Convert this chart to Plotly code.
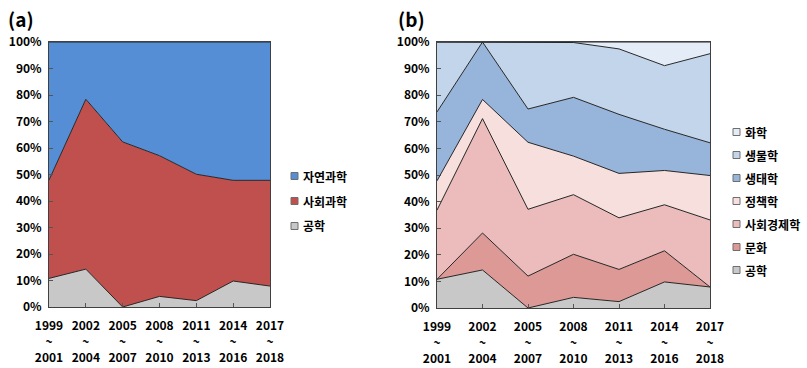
import plotly.graph_objects as go

# Period labels (three-line tick text)
periods = ["1999<br>~<br>2001", "2002<br>~<br>2004", "2005<br>~<br>2007",
           "2008<br>~<br>2010", "2011<br>~<br>2013", "2014<br>~<br>2016",
           "2017<br>~<br>2018"]
xpos = list(range(len(periods)))
pct_vals = list(range(0, 101, 10))
pct_text = [f"{v}%" for v in pct_vals]

# Panel (a): shares by broad field (%)
a_eng = [10.8, 14.3, 0.0, 4.0, 2.4, 9.8, 7.9]
a_social = [37.1, 64.1, 62.3, 53.1, 47.7, 38.0, 39.9]
a_natural = [52.1, 21.6, 37.7, 42.9, 49.9, 52.2, 52.2]

# Panel (b): shares by detailed field (%)
b_eng = [10.8, 14.3, 0.0, 4.0, 2.4, 9.8, 7.9]
b_culture = [0.0, 13.9, 12.0, 16.2, 12.1, 11.7, 0.0]
b_socecon = [26.0, 43.0, 25.1, 22.4, 19.4, 17.3, 25.2]
b_policy = [11.0, 7.2, 25.2, 14.5, 16.7, 12.9, 16.7]
b_ecology = [25.9, 21.6, 12.5, 22.1, 22.2, 15.5, 12.3]
b_biology = [26.3, 0.0, 25.2, 20.6, 24.6, 23.9, 33.5]
b_chem = [0.0, 0.0, 0.0, 0.2, 2.6, 8.9, 4.4]

FONT = "Noto Sans CJK KR"
EDGE = "#262626"
W, H = 807, 368

fig = go.Figure()


def add_stack(values, name, color, xa, ya, group):
    fig.add_trace(go.Scatter(
        x=xpos, y=values, name=name, stackgroup=group, mode="lines",
        line=dict(color=EDGE, width=1), fillcolor=color,
        xaxis=xa, yaxis=ya, showlegend=False, hoverinfo="skip"))


# Panel (a) stack, bottom to top
a_series = [(a_eng, "공학", "#c8c8c8"),
            (a_social, "사회과학", "#c0504d"),
            (a_natural, "자연과학", "#558ed5")]
for vals, name, col in a_series:
    add_stack(vals, name, col, "x", "y", "a")

# Panel (b) stack, bottom to top
b_series = [(b_eng, "공학", "#c8c8c8"),
            (b_culture, "문화", "#dc9996"),
            (b_socecon, "사회경제학", "#ebbcbb"),
            (b_policy, "정책학", "#f6dfdd"),
            (b_ecology, "생태학", "#97b4da"),
            (b_biology, "생물학", "#c3d5eb"),
            (b_chem, "화학", "#e4ecf7")]
for vals, name, col in b_series:
    add_stack(vals, name, col, "x2", "y2", "b")

shapes = []
annotations = []


def add_key_block(series, x0, y_first, step):
    """Draw a legend block: small outlined squares followed by labels."""
    for i, (_, name, col) in enumerate(reversed(series)):
        yc = y_first + i * step
        shapes.append(dict(type="rect", xref="paper", yref="paper",
                           x0=x0 / W, x1=(x0 + 7) / W,
                           y0=1 - (yc + 3.5) / H, y1=1 - (yc - 3.5) / H,
                           fillcolor=col, line=dict(color="#6e6e6e", width=1)))
        annotations.append(dict(text=name, x=(x0 + 10) / W, y=1 - yc / H,
                                xref="paper", yref="paper", xanchor="left",
                                yanchor="middle", showarrow=False,
                                font=dict(family=FONT, size=12,
                                          color="#000000", weight="bold")))


add_key_block(a_series, 291, 176, 25)
add_key_block(b_series, 733, 132, 23)

for label, x in (("(a)", 6), ("(b)", 396)):
    annotations.append(dict(text=label, x=x / W, y=1 - 3 / H, xref="paper",
                            yref="paper", xanchor="left", yanchor="top",
                            showarrow=False,
                            font=dict(family=FONT, size=19, color="#000000",
                                      weight="bold")))

tickfont = dict(family=FONT, size=12, color="#000000", weight="bold")
xcommon = dict(range=[0, 6], tickvals=xpos, ticktext=periods,
               ticks="inside", ticklen=4, tickcolor="#555555",
               showline=True, linecolor="#404040", linewidth=1, mirror=True,
               showgrid=False, zeroline=False, tickfont=tickfont,
               ticklabelstandoff=8, automargin=False, fixedrange=True)
ycommon = dict(range=[0, 100], tickvals=pct_vals, ticktext=pct_text,
               ticks="inside", ticklen=4, tickcolor="#555555",
               showline=True, linecolor="#404040", linewidth=1, mirror=True,
               showgrid=False, zeroline=False, tickfont=tickfont,
               ticklabelstandoff=4, automargin=False, fixedrange=True)

fig.update_layout(
    width=W, height=H,
    margin=dict(l=0, r=0, t=0, b=0, autoexpand=False),
    paper_bgcolor="white", plot_bgcolor="white",
    xaxis=dict(domain=[49 / W, 270 / W], anchor="y", **xcommon),
    yaxis=dict(domain=[1 - 307 / H, 1 - 42 / H], anchor="x", **ycommon),
    xaxis2=dict(domain=[437 / W, 710 / W], anchor="y2", **xcommon),
    yaxis2=dict(domain=[1 - 308 / H, 1 - 42 / H], anchor="x2", **ycommon),
    shapes=shapes,
    annotations=annotations,
    showlegend=False,
)

fig.write_html("out.html")
